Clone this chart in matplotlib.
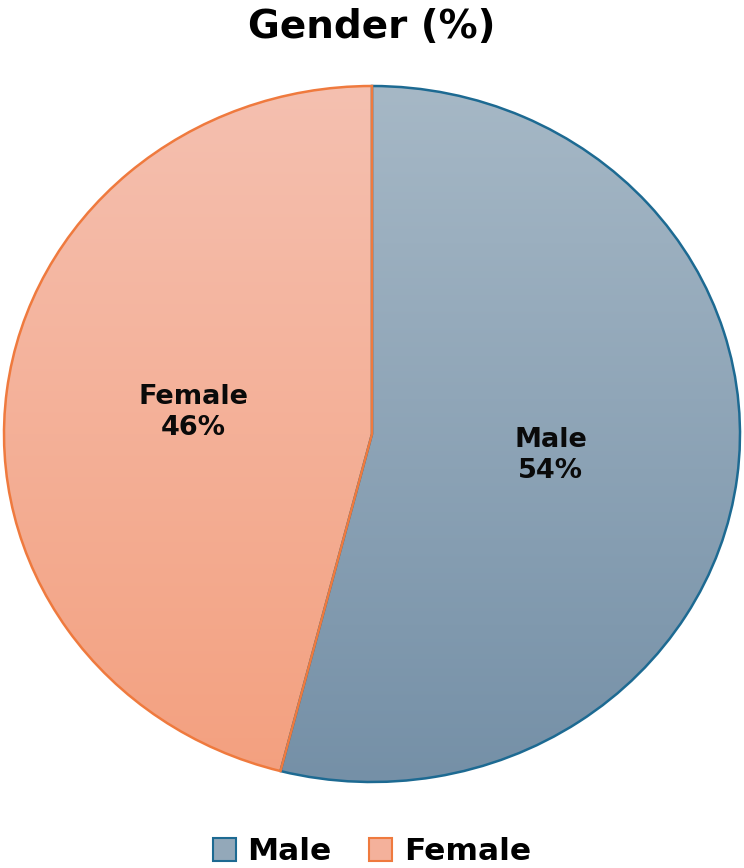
import numpy as np
import matplotlib
matplotlib.use("Agg")
import matplotlib.pyplot as plt
from matplotlib.patches import Patch
from matplotlib.colors import LinearSegmentedColormap

# Data
categories = ["Male", "Female"]
values = [54, 46]
title = "Gender (%)"

# Styles
top_colors = ["#a6b8c6", "#f5c0b0"]
bottom_colors = ["#7590a7", "#f3a07f"]
edge_colors = ["#1d6a92", "#ef7a3e"]
legend_faces = ["#93a8b9", "#f4b19b"]

fig = plt.figure(figsize=(7.44, 8.68), dpi=100)
ax = fig.add_axes([4/744, 1-782/868, 736/744, 696/868])

wedges, texts, autotexts = ax.pie(
    values, startangle=90, counterclock=False, radius=1,
    autopct=lambda p: "", pctdistance=0.49,
    wedgeprops=dict(linewidth=1.8),
)
ax.set_aspect("auto")
ax.set_xlim(-1, 1)
ax.set_ylim(-1, 1)
ax.axis("off")

grad = np.linspace(0, 1, 256).reshape(-1, 1)
for i, w in enumerate(wedges):
    cmap = LinearSegmentedColormap.from_list(f"g{i}", [top_colors[i], bottom_colors[i]])
    im = ax.imshow(grad, cmap=cmap, extent=(-1, 1, -1, 1), aspect="auto",
                   origin="upper", zorder=1)
    im.set_clip_path(w)
    w.set_facecolor("none")
    w.set_edgecolor(edge_colors[i])
    w.set_zorder(2 + i)

for cat, v, t in zip(categories, values, autotexts):
    t.set_text(f"{cat}\n{v}%")
    t.set_fontsize(19.5)
    t.set_fontweight("bold")
    t.set_fontfamily("DejaVu Sans")
    t.set_color("#0a0a0a")
    t.set_zorder(5)
    t.set_linespacing(1.25)

fig.text(0.5, 1-27/868, title, ha="center", va="center",
         fontsize=28, fontweight="bold", family="DejaVu Sans", color="#000000")

handles = [Patch(facecolor=legend_faces[i], edgecolor=edge_colors[i], linewidth=1.5,
                 label=categories[i]) for i in range(len(categories))]
leg = fig.legend(handles=handles, loc="center", bbox_to_anchor=(0.5, 1-852/868),
                 ncol=2, frameon=False, handlelength=0.73, handleheight=0.73,
                 handletextpad=0.38, columnspacing=1.2, borderpad=0,
                 prop=dict(family="DejaVu Sans", weight="bold", size=22.5))

fig.savefig("out.png", dpi=100)
